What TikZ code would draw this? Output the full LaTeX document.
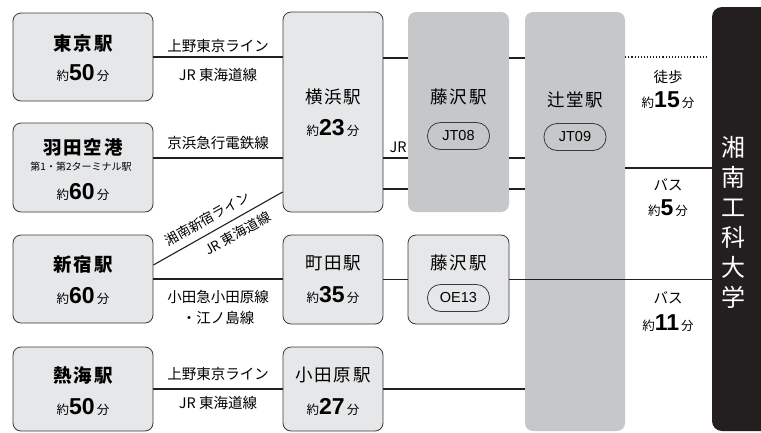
\documentclass[tikz,border=0pt]{standalone}
\usepackage{fontspec}
\setmainfont{Noto Sans CJK JP}
\newfontfamily\numfont{Liberation Sans}
\newfontfamily\spaced{Noto Sans CJK JP}[LetterSpace=10]
\usetikzlibrary{shapes}
\definecolor{boxfill}{HTML}{E6E7E8}
\definecolor{boxline}{HTML}{3A3A3A}
\definecolor{gfill}{HTML}{C6C7C9}
\definecolor{linec}{HTML}{231F20}
\definecolor{univc}{HTML}{231F20}

\newcommand{\yaku}[2][23]{{\fontsize{12.5pt}{12pt}\selectfont 約}{\fontsize{#1pt}{#1pt}\selectfont\numfont\bfseries #2}\hspace{2pt}{\fontsize{12.5pt}{12pt}\selectfont 分}}

\begin{document}
\begin{tikzpicture}[x=1pt,y=-1pt]
\tikzset{box/.style = {draw=boxline, fill=boxfill, rounded corners=8pt, line width=0.8pt, inner sep=0pt}}
\tikzset{gbox/.style = {fill=gfill, rounded corners=8pt, inner sep=0pt}}
\tikzset{edge/.style = {draw=linec, line width=1.1pt}}
\tikzset{pill/.style = {draw=boxline, line width=0.8pt, rounded corners=13pt, minimum width=62pt, minimum height=27pt, inner sep=0pt, font=\numfont\fontsize{14.5pt}{14pt}\selectfont}}
\tikzset{bname/.style = {inner sep=0pt, font=\spaced\bfseries\fontsize{18.5pt}{18pt}\selectfont}}
\tikzset{mname/.style = {inner sep=0pt, font=\spaced\fontsize{17.5pt}{17pt}\selectfont}}
\tikzset{lbl/.style = {inner sep=0pt, font=\fontsize{14.5pt}{21pt}\selectfont}}
\tikzset{slbl/.style = {inner sep=0pt, sloped, font=\fontsize{13.5pt}{14pt}\selectfont}}
\useasboundingbox[fill=white] (0,0) rectangle (761,432);
\node[gbox, minimum width=100, minimum height=419] (tsujido) at (575,221.5) {};
\node[fill=univc, rounded corners=10pt, minimum width=70, minimum height=424] (univ) at (747,219) {};
\node[box, minimum width=140, minimum height=88] (tokyo) at (83,57) {};
\node[box, minimum width=140, minimum height=89] (haneda) at (83,167.5) {};
\node[box, minimum width=140, minimum height=88] (shinjuku) at (83,279) {};
\node[box, minimum width=140, minimum height=84] (atami) at (83,389) {};
\node[box, minimum width=100, minimum height=200] (yoko) at (333,112) {};
\node[box, minimum width=100, minimum height=89] (machida) at (333,279.5) {};
\node[box, minimum width=100, minimum height=84] (odawara) at (333,389) {};
\node[gbox, minimum width=101, minimum height=200] (fujiJR) at (458.5,112) {};
\node[box, minimum width=101, minimum height=89] (fujiOE) at (458.5,279.5) {};
\node[bname] (tokyoN) at (83,43) {東京駅};
\node[inner sep=0pt] (tokyoT) at (83,73) {\yaku{50}};
\node[bname] (hanedaN) at (83,147) {羽田空港};
\node[inner sep=0pt, font=\fontsize{10pt}{10pt}\selectfont] (hanedaS) at (81,167) {第1・第2ターミナル駅};
\node[inner sep=0pt] (hanedaT) at (83,192) {\yaku{60}};
\node[bname] (shinjukuN) at (83,265) {新宿駅};
\node[inner sep=0pt] (shinjukuT) at (83,296) {\yaku{60}};
\node[bname] (atamiN) at (83,375) {熱海駅};
\node[inner sep=0pt] (atamiT) at (83,407) {\yaku{50}};
\node[mname] (yokoN) at (333,97) {横浜駅};
\node[inner sep=0pt] (yokoT) at (333,128) {\yaku{23}};
\node[mname] (machidaN) at (333,263) {町田駅};
\node[inner sep=0pt] (machidaT) at (333,295) {\yaku{35}};
\node[mname] (odawaraN) at (333,375) {小田原駅};
\node[inner sep=0pt] (odawaraT) at (333,407) {\yaku{27}};
\node[mname] (fujiJRN) at (458.5,97) {藤沢駅};
\node[pill] (jt08) at (458.5,136) {JT08};
\node[mname] (fujiOEN) at (458.5,263) {藤沢駅};
\node[pill] (oe13) at (458.5,298) {OE13};
\node[mname] (tsujidoN) at (575,100) {辻堂駅};
\node[pill] (jt09) at (575,137) {JT09};
\node[inner sep=0pt, text=white, align=center, font=\fontsize{24pt}{30pt}\selectfont] (univN) at (733,222) {湘\\南\\工\\科\\大\\学};
\draw[edge] (tokyo.east) -- node[lbl, above=4pt] {上野東京ライン} node[lbl, below=11pt] {JR 東海道線} (tokyo.east -| yoko.west);
\draw[edge] ([yshift=9.5pt]haneda.east) -- node[lbl, above=8pt] {京浜急行電鉄線} ([yshift=9.5pt]haneda.east -| yoko.west);
\draw[edge] ([yshift=14pt]shinjuku.east) -- node[slbl, above=7pt, pos=0.47] {湘南新宿ライン} node[slbl, below=7pt, pos=0.6] {JR 東海道線} ([yshift=-80pt]yoko.west);
\draw[edge] (shinjuku.east) -- node[lbl, below=11pt, align=center] {小田急小田原線\\・江ノ島線} (shinjuku.east -| machida.west);
\draw[edge] (atami.east) -- node[lbl, above=8pt] {上野東京ライン} node[lbl, below=7pt] {JR 東海道線} (atami.east -| odawara.west);
\draw[edge] ([yshift=54pt]yoko.east) -- ([yshift=54pt]yoko.east -| fujiJR.west);
\draw[edge] ([yshift=-46pt]yoko.east) -- ([yshift=-46pt]yoko.east -| fujiJR.west);
\draw[edge] ([yshift=-77pt]yoko.east) -- ([yshift=-77pt]yoko.east -| fujiJR.west);
\draw[edge] ([yshift=54pt]fujiJR.east) -- ([yshift=54pt]fujiJR.east -| tsujido.west);
\draw[edge] ([yshift=-46pt]fujiJR.east) -- ([yshift=-46pt]fujiJR.east -| tsujido.west);
\draw[edge] ([yshift=-77pt]fujiJR.east) -- ([yshift=-77pt]fujiJR.east -| tsujido.west);
\node[lbl] (jr) at (398,147) {JR};
\draw[edge] (machida.east) -- (machida.east -| fujiOE.west);
\draw[edge] (fujiOE.east) -- (fujiOE.east -| univ.west);
\draw[edge] (odawara.east) -- (odawara.east -| tsujido.west);
\draw[edge, dotted, shorten >=5pt] ([yshift=164.5pt]tsujido.east) -- ([yshift=164.5pt]tsujido.east -| univ.west);
\draw[edge] ([yshift=53.5pt]tsujido.east) -- ([yshift=53.5pt]tsujido.east -| univ.west);
\node[lbl] (walk) at (668,77) {徒歩};
\node[inner sep=0pt] (walkT) at (668,100) {\yaku{15}};
\node[lbl] (bus1) at (668,185) {バス};
\node[inner sep=0pt] (bus1T) at (668,208) {\yaku{5}};
\node[lbl] (bus2) at (668,298) {バス};
\node[inner sep=0pt] (bus2T) at (668,323) {\yaku{11}};
\end{tikzpicture}
\end{document}
